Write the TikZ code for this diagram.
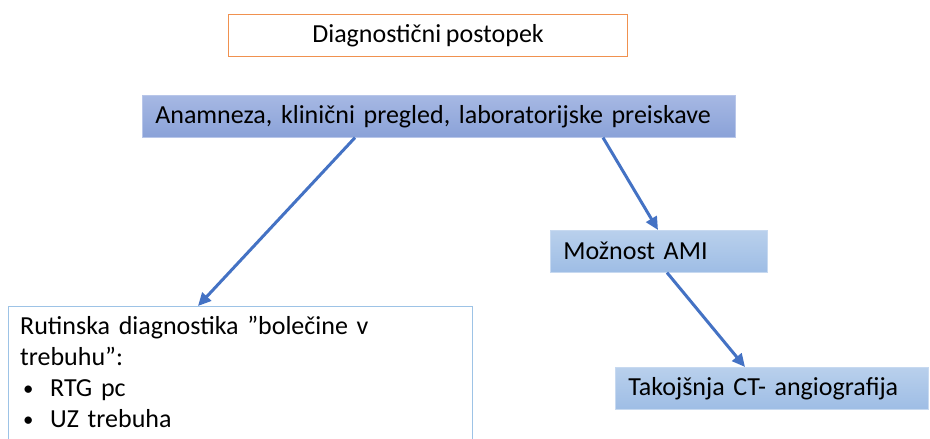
\documentclass[tikz,border=0pt]{standalone}
\usepackage{fontspec}
\setmainfont{Carlito}[WordSpace=0.8]
\usetikzlibrary{arrows.meta}
\definecolor{orangeline}{HTML}{F0914F}
\definecolor{maintop}{HTML}{A6B8E3}
\definecolor{mainbot}{HTML}{8AA2D8}
\definecolor{lighttop}{HTML}{B9D0EC}
\definecolor{lightbot}{HTML}{9EBDE5}
\definecolor{boxline}{HTML}{9DC3E6}
\definecolor{arrowblue}{HTML}{4472C4}
\newcommand{\listdot}{\makebox[30pt][l]{\hspace{3pt}\raisebox{1.5pt}{\scalebox{0.8}{•}}}}
\tikzset{
  txt/.style={font=\fontsize{26}{31}\selectfont, text=black},
  titlebox/.style={txt, draw=orangeline, line width=1.2pt, fill=white,
    minimum width=399pt, minimum height=42pt, inner sep=0pt, anchor=north west},
  mainbox/.style={txt, top color=maintop, bottom color=mainbot, draw=maintop!80!white,
    line width=0.6pt, minimum height=42pt, inner xsep=13pt, inner ysep=0pt,
    align=left, anchor=north west},
  lightbox/.style={txt, top color=lighttop, bottom color=lightbot, draw=lighttop!80!white,
    line width=0.6pt, minimum height=42pt, inner xsep=13pt, inner ysep=0pt,
    align=left, anchor=north west},
  listbox/.style={draw=boxline, line width=1.2pt, fill=white,
    minimum width=464pt, minimum height=150pt, inner sep=0pt, anchor=north west},
  arr/.style={draw=arrowblue, line width=3pt,
    -{Triangle[length=13pt,width=12pt]}, arrowblue}
}
\begin{document}
\begin{tikzpicture}[x=1pt,y=1pt]
  \useasboundingbox (0,0) rectangle (930,-439);
  \clip (0,0) rectangle (930,-439);
  \fill[white] (0,0) rectangle (930,-439);

  % boxes
  \node[titlebox] (title) at (228,-14) {Diagnostični postopek};
  \node[mainbox, text width=567pt] (main) at (142,-95)
    {Anamneza, klinični pregled, laboratorijske preiskave};
  \node[lightbox, text width=191pt] (ami) at (550,-230) {Možnost AMI};
  \node[lightbox, text width=287pt] (tak) at (615,-367) {Takojšnja CT- angiografija};
  \node[listbox] (rut) at (8,-306) {};
  \node[txt, anchor=north west, align=left, inner sep=0pt, text width=450pt] (ruttext)
    at ([xshift=12pt,yshift=-10pt]rut.north west)
    {Rutinska diagnostika ”bolečine v\\
     trebuhu”:\\
     \listdot RTG pc\\
     \listdot UZ trebuha};

  % connectors
  \draw[arr] ([xshift=213pt]main.south west) -- ([xshift=190pt]rut.north west);
  \draw[arr] ([xshift=461pt]main.south west) -- ([xshift=108pt]ami.north west);
  \draw[arr] ([xshift=117pt]ami.south west) -- ([xshift=130pt]tak.north west);
\end{tikzpicture}
\end{document}
